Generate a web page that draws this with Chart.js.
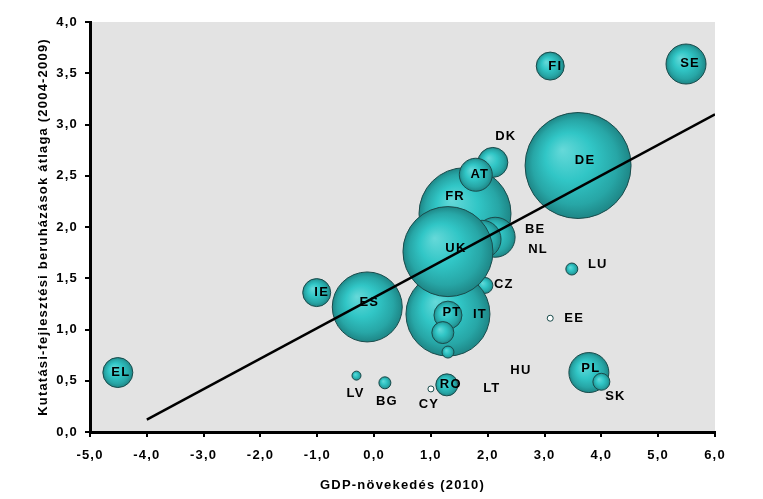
<!DOCTYPE html>
<html>
<head>
<meta charset="utf-8">
<script src="https://cdn.jsdelivr.net/npm/chart.js@4/dist/chart.umd.min.js"></script>
<style>
  body { margin: 0; background: #ffffff; }
</style>
</head>
<body>
<canvas id="canvas" width="763" height="499"></canvas>
<script>
const ctx = document.getElementById('canvas');

// countries in drawing order (large ones first so the small ones stay visible)
const countries = ['DE', 'FR', 'DK', 'AT', 'BE', 'NL', 'CZ', 'IT', 'UK', 'ES', 'IE', 'EL', 'PT', 'LT', 'HU',
  'RO', 'PL', 'SK', 'FI', 'SE', 'LU', 'LV', 'BG', 'EE', 'CY'];
const gdpGrowth = [3.59, 1.60, 2.09, 1.79, 2.13, 1.90, 1.95, 1.30, 1.30, -0.12, -1.01, -4.51, 1.30, 1.21, 1.30,
  1.28, 3.78, 4.00, 3.10, 5.49, 3.48, -0.31, 0.19, 3.10, 1.00];
const rdAverage = [2.60, 2.13, 2.63, 2.51, 1.90, 1.88, 1.43, 1.15, 1.76, 1.22, 1.36, 0.58, 1.14, 0.97, 0.78,
  0.46, 0.58, 0.49, 3.57, 3.59, 1.59, 0.55, 0.48, 1.11, 0.42];
const bubbleSize = [53, 46, 15, 16.5, 20, 19, 8, 42, 45, 35, 14, 15, 14, 11, 6,
  11, 20, 8.5, 14, 20, 6, 4.5, 6, 3, 3];

const trendX = [-4, 6];
const trendY = [0.12, 3.1];

// label offsets from the bubble centre, in pixels
const labelOffset = {
  DE: [7, -5], FR: [-10, -17], DK: [13, -26], AT: [4, 0], BE: [40, -8], NL: [56, 10], CZ: [19, -1],
  IT: [32, 0], UK: [8, -3], ES: [2, -5], IE: [5, 0], EL: [3, 0], PT: [4, -3], LT: [49, 56], HU: [73, 18],
  RO: [4, 0], PL: [2, -4], SK: [14, 15], FI: [5, 0], SE: [4, -1], LU: [26, -5], LV: [-1, 18], BG: [2, 19],
  EE: [24, 0], CY: [-2, 15]
};

const bubbleData = countries.map(function(c, i) {
  return { x: gdpGrowth[i], y: rdAverage[i], r: bubbleSize[i] };
});
const trendData = trendX.map(function(x, i) {
  return { x: x, y: trendY[i] };
});

function bubbleFill(context) {
  const chart = context.chart;
  const raw = context.raw;
  if (!raw || !chart.scales.x) return '#33c6c6';
  if (raw.r < 4) return '#ffffff';
  const px = chart.scales.x.getPixelForValue(raw.x);
  const py = chart.scales.y.getPixelForValue(raw.y);
  if (!isFinite(px) || !isFinite(py)) return '#33c6c6';
  const g = chart.ctx.createRadialGradient(px - raw.r * 0.3, py - raw.r * 0.3, 0, px, py, raw.r);
  g.addColorStop(0, '#66d9d9');
  g.addColorStop(0.45, '#31c6c6');
  g.addColorStop(0.8, '#27a6a6');
  g.addColorStop(1, '#1e8686');
  return g;
}

const plotBackground = {
  id: 'plotBackground',
  beforeLayout: function(chart) {
    chart.ctx.letterSpacing = '1.2px';
  },
  beforeDraw: function(chart) {
    const a = chart.chartArea;
    chart.ctx.letterSpacing = '1.2px';
    chart.ctx.save();
    chart.ctx.fillStyle = '#e3e3e3';
    chart.ctx.fillRect(a.left, a.top, a.right - a.left, a.bottom - a.top);
    chart.ctx.restore();
  }
};

const countryLabels = {
  id: 'countryLabels',
  afterDatasetsDraw: function(chart) {
    const meta = chart.getDatasetMeta(1);
    const c = chart.ctx;
    c.save();
    c.font = 'bold 13px "Liberation Sans", Arial, sans-serif';
    c.fillStyle = '#000000';
    c.textAlign = 'center';
    c.textBaseline = 'middle';
    meta.data.forEach(function(el, i) {
      const off = labelOffset[countries[i]] || [0, 0];
      c.fillText(countries[i], el.x + off[0], el.y + off[1]);
    });
    c.restore();
  }
};

const tickFont = { family: '"Liberation Sans", Arial, sans-serif', size: 13, weight: 'bold' };
const titleFont = { family: '"Liberation Sans", Arial, sans-serif', size: 13, weight: 'bold' };

new Chart(ctx, {
  data: {
    datasets: [
      {
        type: 'line',
        data: trendData,
        borderColor: '#000000',
        borderWidth: 2.5,
        pointRadius: 0,
        order: 0
      },
      {
        type: 'bubble',
        data: bubbleData,
        backgroundColor: bubbleFill,
        borderColor: '#1a4c4c',
        borderWidth: 1,
        clip: false,
        order: 1
      }
    ]
  },
  options: {
    responsive: false,
    animation: false,
    events: [],
    layout: {
      autoPadding: false,
      padding: { top: 22, right: 48, left: 0, bottom: 0 }
    },
    plugins: {
      legend: { display: false },
      tooltip: { enabled: false }
    },
    scales: {
      x: {
        type: 'linear',
        min: -5,
        max: 6,
        afterFit: function(scale) { scale.height = 67; },
        grid: {
          drawOnChartArea: false,
          color: '#000000',
          lineWidth: 2,
          tickLength: 5
        },
        border: { color: '#000000', width: 3 },
        ticks: {
          stepSize: 1,
          color: '#000000',
          font: tickFont,
          padding: 11,
          maxRotation: 0,
          callback: function(val) {
            return val.toFixed(1).replace('.', ',');
          }
        },
        title: {
          display: true,
          text: 'GDP-növekedés (2010)',
          color: '#000000',
          font: titleFont,
          padding: { top: 10, bottom: 6 }
        }
      },
      y: {
        min: 0,
        max: 4,
        afterFit: function(scale) { scale.width = 90; },
        grid: {
          drawOnChartArea: false,
          color: '#000000',
          lineWidth: 2,
          tickLength: 5
        },
        border: { color: '#000000', width: 3 },
        ticks: {
          stepSize: 0.5,
          color: '#000000',
          font: tickFont,
          padding: 7,
          callback: function(val) {
            return val.toFixed(1).replace('.', ',');
          }
        },
        title: {
          display: true,
          text: 'Kutatási-fejlesztési beruházások átlaga (2004-2009)',
          color: '#000000',
          font: titleFont,
          padding: { top: 36, bottom: 0 }
        }
      }
    }
  },
  plugins: [plotBackground, countryLabels]
});
</script>
</body>
</html>
